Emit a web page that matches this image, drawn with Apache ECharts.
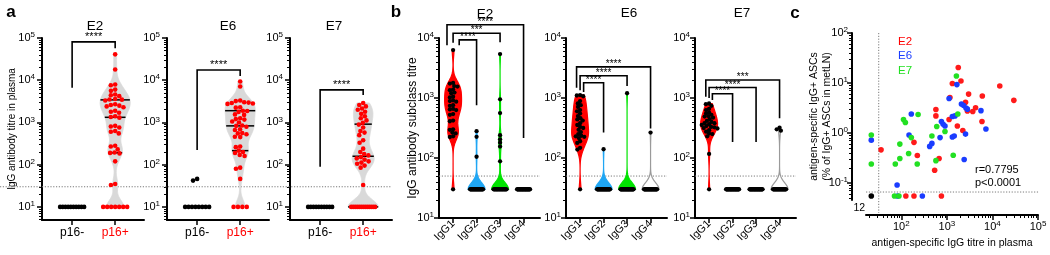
<!DOCTYPE html>
<html>
<head>
<meta charset="utf-8">
<script src="https://cdn.jsdelivr.net/npm/echarts@6.0.0/dist/echarts.min.js"></script>
<style>
html,body{margin:0;padding:0;background:#ffffff;}
#chart{width:1050px;height:255px;}
</style>
</head>
<body>
<div id="chart"></div>
<script>
// ================= DATA =================
// Panel a: IgG antibody titre in plasma, p16- vs p16+
const aPanels = ['E2', 'E6', 'E7'];
const aCategories = ['p16-', 'p16+'];
const aYName = 'IgG antibody titre in plasma';
const aE2Neg = [10,10,10,10,10,10,10,10,10,10];
const aE2Pos = [41000,18000,7900,7600,6000,5600,4600,4400,4200,3600,3500,3470,3300,2700,2600,2500,2400,2300,1900,1800,1700,1400,1350,1300,830,800,760,630,600,550,280,270,230,195,190,185,120,35,33,10,10,10,10,10,10,10];
const aE6Neg = [10,10,10,10,10,10,10,10,42,46];
const aE6Pos = [9300,7100,3300,3200,3000,2950,2900,2800,2750,2300,2240,1900,1860,1780,1550,1510,1260,1200,1170,1050,1000,850,830,790,690,660,560,550,525,460,450,270,260,215,200,190,170,160,85,80,46,10,10,10,10];
const aE7Neg = [10,10,10,10,10,10,10,10,10,10];
const aE7Pos = [2900,2600,2400,2140,2000,1800,1600,1400,1260,1120,980,890,760,630,575,500,380,330,240,200,178,166,151,141,132,120,112,105,95,85,33,10,10,10,10,10,10,10,10,10,10,10,10,10];
const aThreshold = 30;
const aSignif = ['****', '****', '****'];
const aBracketTop = [81000, 17400, 5900];
const aBracketNegEnd = [6600, 224, 89];
const aBracketPosEnd = [57500, 12600, 4470];

// Panel b: IgG subclass titres
const bPanels = ['E2', 'E6', 'E7'];
const bCategories = ['IgG1', 'IgG2', 'IgG3', 'IgG4'];
const bYName = 'IgG antibody subclass titre';
const bE2IgG1 = [6300,1780,1740,1580,1550,1380,1350,1230,1200,1050,1020,910,890,870,760,740,660,645,630,540,525,420,410,300,295,265,257,230,224,30];
const bE2IgG2 = [280,225,105,30,30,30,30,30,30,30,30,30,30,30,30,30,30,30,30,30,30,30,30,30,30,30,30,30,30,30];
const bE2IgG3 = [5400,950,560,240,205,180,155,88,30,30,30,30,30,30,30,30,30,30,30,30,30,30,30,30,30,30,30,30,30,30];
const bE2IgG4 = [30,30,30,30,30,30,30,30,30,30,30,30,30,30,30,30,30,30,30,30,30,30,30,30,30,30,30,30,30,30];
const bE6IgG1 = [1120,1100,1070,890,810,760,710,630,600,550,500,460,440,420,380,355,330,316,295,270,250,235,230,225,215,190,178,148,138,30];
const bE6IgG2 = [140,30,30,30,30,30,30,30,30,30,30,30,30,30,30,30,30,30,30,30,30,30,30,30,30,30,30,30,30,30];
const bE6IgG3 = [1200,30,30,30,30,30,30,30,30,30,30,30,30,30,30,30,30,30,30,30,30,30,30,30,30,30,30,30,30,30];
const bE6IgG4 = [265,30,30,30,30,30,30,30,30,30,30,30,30,30,30,30,30,30,30,30,30,30,30,30,30,30,30,30,30,30];
const bE7IgG1 = [810,790,740,660,630,575,550,525,500,490,470,445,415,400,380,380,365,355,340,330,325,315,310,290,275,255,250,230,117,30];
const bE7IgG2 = [30,30,30,30,30,30,30,30,30,30,30,30,30,30,30,30,30,30,30,30,30,30,30,30,30,30,30,30,30,30];
const bE7IgG3 = [30,30,30,30,30,30,30,30,30,30,30,30,30,30,30,30,30,30,30,30,30,30,30,30,30,30,30,30,30,30];
const bE7IgG4 = [320,300,285,30,30,30,30,30,30,30,30,30,30,30,30,30,30,30,30,30,30,30,30,30,30,30,30,30,30,30];
const bThreshold = 50;
// [to category index, significance, bracket top titre, IgG1-leg end titre, other-leg end titre]
const bE2Brackets = [[1,'****',9300,7600,760],[2,'***',12000,8300,8500],[3,'****',16600,7600,215]];
const bE6Brackets = [[1,'****',1800,1260,265],[2,'****',2350,1350,1580],[3,'****',3300,1480,310]];
const bE7Brackets = [[1,'****',1175,930,185],[2,'****',1500,1000,185],[3,'***',2000,1050,460]];

// Panel c: [plasma IgG titre, % antigen-specific IgG+ ASCs]
const cXName = 'antigen-specific IgG titre in plasma';
const cYName = 'antigen-specific IgG+ ASCs\n(% of IgG+ ASCs in metLN)';
const cE2 = [[1780,20.4],[2040,11.0],[1320,9.8],[14500,8.7],[29500,4.5],[3000,6.0],[6000,5.5],[1170,5.1],[2570,4.1],[4270,3.2],[2820,2.75],[3700,2.7],[575,2.95],[575,2.2],[1120,1.86],[1700,1.38],[2240,1.12],[5900,1.7],[190,0.65],[225,0.355],[675,0.31],[540,0.18],[36,0.46],[126,0.055],[190,0.055],[760,0.055]];
const cE6 = [[1660,9.3],[1120,4.9],[2090,3.8],[2340,3.55],[2630,3.16],[2820,3.0],[5600,2.8],[7200,1.2],[760,1.7],[830,1.5],[910,1.38],[1320,2.14],[1510,2.2],[2570,0.95],[1320,0.83],[1450,0.87],[710,0.81],[470,0.62],[420,0.54],[166,2.4],[148,0.91],[2400,0.295],[81,0.091],[22,0.72],[83,0.055],[290,0.055]];
const cE7 = [[1620,13.8],[1740,2.4],[600,1.35],[910,1.07],[470,0.87],[234,2.34],[112,1.86],[123,1.62],[166,0.81],[93,0.6],[145,0.39],[93,0.31],[74,0.24],[224,0.24],[575,0.28],[1380,0.36],[22,0.91],[22,0.24],[71,0.055],[89,0.055]];
const cBoth = [[22,0.055]];
const cBothCount = '12';
const cLegend = ['E2', 'E6', 'E7'];
const cStats = ['r=0.7795', 'p<0.0001'];
const cThresholdTitre = 32;
const cThresholdASC = 0.066;

// ================= BUILD =================
const FONT = "'Liberation Sans', Arial, Helvetica, sans-serif";
const lg = Math.log10;
const chart = echarts.init(document.getElementById('chart'), null, {renderer: 'canvas', width: 1050, height: 255});

function majorsIn(lo, hi) { const r = []; for (let n = Math.ceil(lo - 1e-9); n <= hi + 1e-9; n++) r.push(n); return r; }
function minorsIn(lo, hi) {
  const r = [];
  for (let n = Math.floor(lo) - 1; n <= Math.ceil(hi); n++) for (let k = 2; k <= 9; k++) { const v = n + lg(k); if (v >= lo - 1e-9 && v <= hi + 1e-9) r.push(v); }
  return r;
}
const supFmt = v => '{b|10}{s|' + Math.round(v) + '}';
function supRich(fs) {
  return {
    b: {fontSize: fs, fontFamily: FONT, color: '#000', lineHeight: fs + 3},
    s: {fontSize: Math.round(fs * 0.7), fontFamily: FONT, color: '#000', verticalAlign: 'top', lineHeight: Math.round(fs * 0.7)}
  };
}
function logAxis(dim, gi, lo, hi, fs, margin, extra) {
  return Object.assign({
    type: 'value', gridIndex: gi, min: lo, max: hi, position: dim === 'y' ? 'left' : 'bottom',
    axisLine: {show: true, onZero: false, lineStyle: {color: '#000', width: 2}},
    axisTick: {show: true, customValues: majorsIn(lo, hi), length: 5, lineStyle: {color: '#000', width: 1.5}},
    axisLabel: {show: true, customValues: majorsIn(lo, hi), formatter: supFmt, rich: supRich(fs), margin: margin},
    splitLine: {show: false}, splitArea: {show: false}, nameMoveOverlap: false
  }, extra || {});
}
function minorAxis(dim, gi, lo, hi, extra) {
  return Object.assign({
    type: 'value', gridIndex: gi, min: lo, max: hi, position: dim === 'y' ? 'left' : 'bottom',
    axisLine: {show: false, onZero: false},
    axisTick: {show: true, customValues: minorsIn(lo, hi), length: 3, lineStyle: {color: '#000', width: 1}},
    axisLabel: {show: false}, splitLine: {show: false}
  }, extra || {});
}

const grids = [], xAxes = [], yAxes = [];
const addGrid = g => { grids.push(Object.assign({containLabel: false, outerBoundsMode: 'none'}, g)); return grids.length - 1; };
const addX = a => { xAxes.push(a); return xAxes.length - 1; };
const addY = a => { yAxes.push(a); return yAxes.length - 1; };
const nameStyle = fs => ({fontSize: fs, fontFamily: FONT, color: '#000', lineHeight: fs + 2});

// ---- panel a layout
const A = {lefts: [42, 167, 290], top: 38, width: 102, height: 182, xmin: -0.7, xmax: 1.67, ymin: 0.69, ymax: 5};
const aIdx = A.lefts.map((left, i) => {
  const gi = addGrid({left, top: A.top, width: A.width, height: A.height});
  const xi = addX({
    type: 'value', gridIndex: gi, min: A.xmin, max: A.xmax, position: 'bottom',
    axisLine: {show: true, onZero: false, lineStyle: {color: '#000', width: 2}},
    axisTick: {show: true, customValues: [0, 1], length: 5, lineStyle: {color: '#000', width: 1.5}},
    axisLabel: {show: true, customValues: [0, 1], margin: 7,
      formatter: v => (v === 0 ? '{k|' + aCategories[0] + '}' : '{r|' + aCategories[1] + '}'),
      rich: {k: {fontSize: 12, fontFamily: FONT, color: '#000'}, r: {fontSize: 12, fontFamily: FONT, color: '#ff0000'}}},
    splitLine: {show: false}
  });
  const yi = addY(logAxis('y', gi, A.ymin, A.ymax, 11, 7, i === 0 ? {name: aYName, nameLocation: 'middle', nameGap: 24, nameTextStyle: nameStyle(10)} : {}));
  addY(minorAxis('y', gi, A.ymin, A.ymax));
  return {gi, xi, yi};
});
const aLineGrid = addGrid({left: 0, top: A.top, width: 392, height: A.height});
const aLineX = addX({type: 'value', gridIndex: aLineGrid, min: 0, max: 1, show: false});
const aLineY = addY({type: 'value', gridIndex: aLineGrid, min: A.ymin, max: A.ymax, show: false});

// ---- panel b layout
const B = {lefts: [439, 566, 695], top: 38, width: 101, height: 180, xmin: -0.6, xmax: 3.7, ymin: 1, ymax: 4};
const bIdx = B.lefts.map((left, i) => {
  const gi = addGrid({left, top: B.top, width: B.width, height: B.height});
  const xi = addX({
    type: 'value', gridIndex: gi, min: B.xmin, max: B.xmax, position: 'bottom',
    axisLine: {show: true, onZero: false, lineStyle: {color: '#000', width: 2}},
    axisTick: {show: true, customValues: [0, 1, 2, 3], length: 5, lineStyle: {color: '#000', width: 1.5}},
    axisLabel: {show: true, customValues: [0, 1, 2, 3], margin: 4, rotate: 45, formatter: v => bCategories[Math.round(v)],
      fontSize: 11, fontFamily: FONT, color: '#000'},
    splitLine: {show: false}
  });
  const yi = addY(logAxis('y', gi, B.ymin, B.ymax, 11, 5, i === 0 ? {name: bYName, nameLocation: 'middle', nameGap: 19, nameTextStyle: nameStyle(12)} : {}));
  addY(minorAxis('y', gi, B.ymin, B.ymax));
  return {gi, xi, yi};
});

// ---- panel c layout
const C = {left: 866, top: 33, width: 172, height: 167, xmin: 1.226, xmax: 5, ymin: -1.34, ymax: 2};
const cG = addGrid({left: C.left, top: C.top, width: C.width, height: C.height});
const cX = addX(logAxis('x', cG, C.xmin, C.xmax, 11, 5, {offset: 15, name: cXName, nameLocation: 'middle', nameGap: 22, nameTextStyle: nameStyle(10.5)}));
addX(minorAxis('x', cG, C.xmin, C.xmax, {offset: 15}));
const cY = addY(logAxis('y', cG, C.ymin, C.ymax, 11, 4, {offset: 14, name: cYName, nameLocation: 'middle', nameGap: 19, nameTextStyle: nameStyle(10.5)}));
addY(minorAxis('y', cG, C.ymin, C.ymax, {offset: 14}));
const cIdx = {gi: cG, xi: cX, yi: cY};

// ---- text annotations
const txt = (text, x, y, font, color, align) => ({type: 'text', x, y, silent: true,
  style: {text, font, fill: color || '#000', align: align || 'center', verticalAlign: 'middle', textAlign: align || 'center', textVerticalAlign: 'middle'}});
const graphics = [
  txt('a', 11, 12.5, 'bold 17px ' + FONT), txt('b', 396, 12.5, 'bold 17px ' + FONT), txt('c', 795, 13.5, 'bold 17px ' + FONT),
  txt(aPanels[0], 95, 26, '13.5px ' + FONT), txt(aPanels[1], 228, 26, '13.5px ' + FONT), txt(aPanels[2], 334, 26, '13.5px ' + FONT),
  txt(bPanels[0], 485, 14, '13.5px ' + FONT), txt(bPanels[1], 629, 13.5, '13.5px ' + FONT), txt(bPanels[2], 742, 13.5, '13.5px ' + FONT),
  txt(cLegend[0], 905, 41.5, '11.5px ' + FONT, '#ff0000'), txt(cLegend[1], 905, 56, '11.5px ' + FONT, '#1a3cff'), txt(cLegend[2], 905, 70.5, '11.5px ' + FONT, '#22e022'),
  txt(cStats[0], 975, 170, '11px ' + FONT, '#000', 'left'),
  txt(cStats[1], 975, 183, '11px ' + FONT, '#000', 'left')
];

chart.setOption({animation: false, backgroundColor: '#ffffff', grid: grids, xAxis: xAxes, yAxis: yAxes, graphic: {elements: graphics}, series: []});

// ---- helpers for marks
function swarm(vals, cx, xi, yi, d, maxRowW) {
  const ux = chart.convertToPixel({xAxisIndex: xi}, cx + 1) - chart.convertToPixel({xAxisIndex: xi}, cx);
  const pts = vals.map(v => ({v, ly: lg(v), py: chart.convertToPixel({yAxisIndex: yi}, lg(v)), px: null}));
  const groups = {};
  pts.forEach(p => { (groups[p.v] = groups[p.v] || []).push(p); });
  const placed = [];
  Object.keys(groups).forEach(k => {
    const g = groups[k];
    if (g.length >= 3) {
      const n = g.length, s = Math.min(d, maxRowW / (n - 1));
      g.forEach((p, i) => { p.px = (i - (n - 1) / 2) * s; placed.push(p); });
    }
  });
  pts.filter(p => p.px === null).sort((a, b) => a.py - b.py).forEach(p => {
    const blocked = [];
    placed.forEach(q => { const dy = Math.abs(q.py - p.py); if (dy < d) { const w = Math.sqrt(d * d - dy * dy); blocked.push([q.px - w, q.px + w]); } });
    const cands = [0];
    blocked.forEach(b => cands.push(b[0], b[1]));
    cands.sort((a, b) => Math.abs(a) - Math.abs(b));
    for (const c of cands) { if (blocked.every(b => c <= b[0] + 1e-6 || c >= b[1] - 1e-6)) { p.px = c; break; } }
    if (p.px === null) p.px = 0;
    placed.push(p);
  });
  return pts.map(p => [cx + p.px / ux, p.ly]);
}
function violinShape(vals, cx, halfW, bw, fill, stroke, quart) {
  const L = vals.map(lg);
  const lo = Math.min(...L), hi = Math.max(...L);
  if (hi - lo < 1e-6) return null;
  const dens = y => L.reduce((s, v) => { const z = (y - v) / bw; return s + Math.exp(-0.5 * z * z); }, 0);
  const N = 200, ys = [], ds = [];
  for (let k = 0; k <= N; k++) { const y = lo + (hi - lo) * k / N; ys.push(y); ds.push(dens(y)); }
  const m = Math.max(...ds);
  const left = ys.map((y, k) => [cx - halfW * ds[k] / m, y]);
  const right = ys.map((y, k) => [cx + halfW * ds[k] / m, y]).reverse();
  const out = {poly: left.concat(right), fill, stroke, lines: []};
  if (quart) {
    const s = L.slice().sort((a, b) => a - b);
    [0.25, 0.5, 0.75].forEach(p => {
      const pos = (s.length - 1) * p, f = Math.floor(pos);
      const q = s[f] + (s[Math.min(f + 1, s.length - 1)] - s[f]) * (pos - f);
      const w = halfW * dens(q) / m;
      out.lines.push([cx - w, cx + w, q]);
    });
  }
  return out;
}
function violinSeries(ax, shapes, lw) {
  const list = shapes.filter(Boolean);
  return {
    type: 'custom', xAxisIndex: ax.xi, yAxisIndex: ax.yi, z: 1, silent: true, clip: false,
    data: list.map(s => s.poly[0]),
    renderItem: (params, api) => {
      const s = list[params.dataIndex];
      const ch = [{type: 'polygon', shape: {points: s.poly.map(p => api.coord(p))}, style: {fill: s.fill, stroke: s.stroke, lineWidth: lw}}];
      s.lines.forEach(l => {
        const a = api.coord([l[0], l[2]]), b = api.coord([l[1], l[2]]);
        ch.push({type: 'line', shape: {x1: a[0], y1: a[1], x2: b[0], y2: b[1]}, style: {stroke: '#000', lineWidth: 1.5}});
      });
      return {type: 'group', children: ch};
    }
  };
}
function scatterS(ax, data, color, size, extra) {
  return Object.assign({type: 'scatter', xAxisIndex: ax.xi, yAxisIndex: ax.yi, data, symbol: 'circle', symbolSize: size,
    itemStyle: {color, opacity: 1}, z: 3, silent: true, clip: false}, extra || {});
}
function bracketSeries(ax, items, fs, dy) {
  return {
    type: 'custom', xAxisIndex: ax.xi, yAxisIndex: ax.yi, z: 4, silent: true, clip: false,
    data: items.map(it => [it[0], lg(it[2])]),
    renderItem: (params, api) => {
      const it = items[params.dataIndex];
      const top = lg(it[2]);
      const p1 = api.coord([it[0], lg(it[3])]), p2 = api.coord([it[0], top]), p3 = api.coord([it[1], top]), p4 = api.coord([it[1], lg(it[4])]);
      return {type: 'group', children: [
        {type: 'polyline', shape: {points: [p1, p2, p3, p4]}, style: {stroke: '#000', lineWidth: 1.6, fill: null}},
        {type: 'text', x: (p2[0] + p3[0]) / 2, y: p2[1] - dy, style: {text: it[5], font: fs + 'px ' + FONT, fill: '#000', align: 'center', verticalAlign: 'middle'}}
      ]};
    }
  };
}
const dotted = {color: '#7a7a7a', width: 1, type: [1.2, 1.6]};
function hLine(xi, yi, x0, x1, y, clip) {
  return {type: 'line', xAxisIndex: xi, yAxisIndex: yi, data: [[x0, y], [x1, y]], symbol: 'none', lineStyle: dotted, z: 0, silent: true, clip: !!clip};
}

// ---- series
const series = [];
// panel a
series.push(hLine(aLineX, aLineY, 0, 1, lg(aThreshold), true));
const aNeg = [aE2Neg, aE6Neg, aE7Neg], aPos = [aE2Pos, aE6Pos, aE7Pos];
aIdx.forEach((ax, i) => {
  series.push(violinSeries(ax, [violinShape(aPos[i], 1, 0.35, 0.17, '#d9d9d9', '#d9d9d9', true)], 0.8));
  series.push(scatterS(ax, swarm(aNeg[i], 0, ax.xi, ax.yi, 4.4, 24), '#000000', 4.6));
  series.push(scatterS(ax, swarm(aPos[i], 1, ax.xi, ax.yi, 4.4, 24), '#ff0000', 4.6));
  series.push(bracketSeries(ax, [[0, 1, aBracketTop[i], aBracketNegEnd[i], aBracketPosEnd[i], aSignif[i]]], 11, 5));
});
// panel b
const bData = [[bE2IgG1, bE2IgG2, bE2IgG3, bE2IgG4], [bE6IgG1, bE6IgG2, bE6IgG3, bE6IgG4], [bE7IgG1, bE7IgG2, bE7IgG3, bE7IgG4]];
const bBrackets = [bE2Brackets, bE6Brackets, bE7Brackets];
const bFill = ['#ff0000', '#1fa6f4', '#00e400', '#ffffff'];
const bStroke = ['#ff0000', '#1fa6f4', '#00e400', '#9a9a9a'];
const bLegSpread = [0.26, 0.15, 0.14];
bIdx.forEach((ax, i) => {
  series.push(hLine(ax.xi, ax.yi, B.xmin, B.xmax, lg(bThreshold), true));
  series.push(violinSeries(ax, bData[i].map((vals, c) => violinShape(vals, c, 0.36, 0.11, bFill[c], bStroke[c], false)), 1.2));
  let pts = [];
  bData[i].forEach((vals, c) => { pts = pts.concat(swarm(vals, c, ax.xi, ax.yi, 3.3, 13)); });
  series.push(scatterS(ax, pts, '#000000', 4.3));
  const offs = [bLegSpread[i], 0, -bLegSpread[i]];
  series.push(bracketSeries(ax, bBrackets[i].map((b, k) => [offs[k], b[0], b[2], b[3], b[4], b[1]]), 10, 2.5));
});
// panel c
series.push({type: 'line', xAxisIndex: cIdx.xi, yAxisIndex: cIdx.yi, data: [[lg(cThresholdTitre), C.ymax], [lg(cThresholdTitre), -1.6]], symbol: 'none', lineStyle: dotted, z: 0, silent: true, clip: false});
series.push({type: 'line', xAxisIndex: cIdx.xi, yAxisIndex: cIdx.yi, data: [[0.92, lg(cThresholdASC)], [5.2, lg(cThresholdASC)]], symbol: 'none', lineStyle: dotted, z: 0, silent: true, clip: false});
const toLog = arr => arr.map(p => [lg(p[0]), lg(p[1])]);
series.push(scatterS(cIdx, toLog(cE2), '#ff1a1a', 5.6));
series.push(scatterS(cIdx, toLog(cE6), '#1a3cff', 5.6));
series.push(scatterS(cIdx, toLog(cE7), '#22e022', 5.6));
series.push(scatterS(cIdx, toLog(cBoth), '#000000', 5.6, {label: {show: true, formatter: cBothCount, position: [-15, 9], fontSize: 10.5, fontFamily: FONT, color: '#000'}}));

chart.setOption({series});
</script>
</body>
</html>
